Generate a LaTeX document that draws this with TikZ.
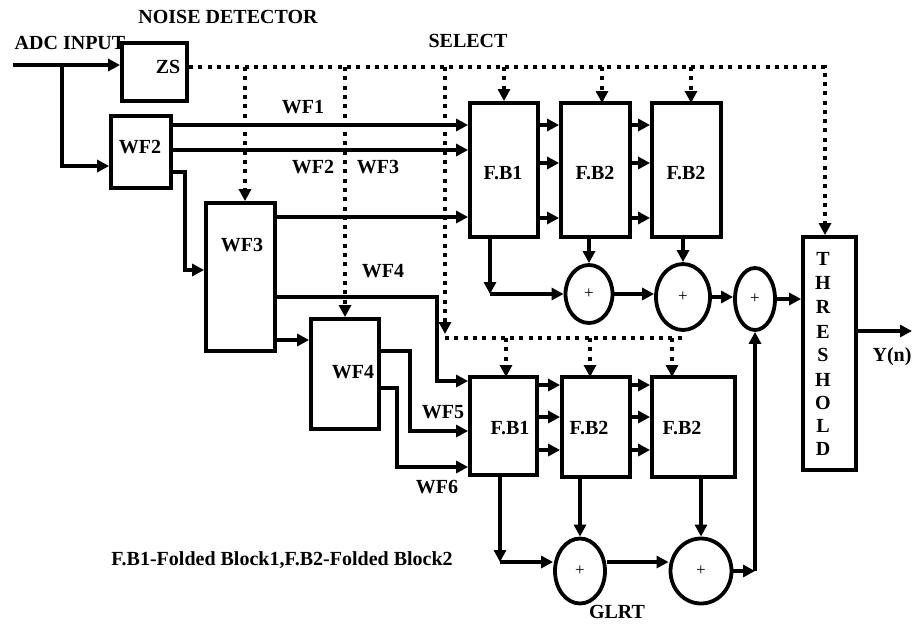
\documentclass[tikz,border=0pt]{standalone}
\usepackage{fontspec}
\setmainfont{Liberation Serif}
\usetikzlibrary{arrows.meta,shapes.geometric}
\tikzset{
  ln/.style={line width=3.8pt, line join=miter},
  arr/.style={ln, -{Triangle[length=12pt,width=12pt]}},
  dotl/.style={line width=4pt, dash pattern=on 4pt off 5.3pt},
  darr/.style={dotl, -{Triangle[length=12pt,width=12pt]}},
  blk/.style={draw, line width=3.8pt, inner sep=0pt, fill=white},
  sumnode/.style={draw, ellipse, line width=3.8pt, inner sep=0pt, font=\fontsize{17}{17}\selectfont},
  lbl/.style={inner sep=0pt, font=\fontsize{20}{20}\selectfont\bfseries},
}
\begin{document}
\begin{tikzpicture}[x=1pt,y=-1pt]
\useasboundingbox (0,0) rectangle (912,624);

% ---------- blocks ----------
\node[blk, minimum width=65pt, minimum height=58pt] (zs) at (154.5,72) {};
\node[blk, minimum width=60pt, minimum height=72pt] (wf2) at (141,152) {};
\node[blk, minimum width=69pt, minimum height=148pt] (wf3) at (240.5,277) {};
\node[blk, minimum width=68pt, minimum height=110pt] (wf4) at (345,374) {};
\node[blk, minimum width=68pt, minimum height=134pt] (ufb1) at (504,170) {};
\node[blk, minimum width=69pt, minimum height=134pt] (ufb2) at (595.5,170) {};
\node[blk, minimum width=69pt, minimum height=134pt] (ufb3) at (686.5,170) {};
\node[blk, minimum width=67pt, minimum height=98pt] (lfb1) at (503.5,426) {};
\node[blk, minimum width=68pt, minimum height=100pt] (lfb2) at (596,427) {};
\node[blk, minimum width=83pt, minimum height=100pt] (lfb3) at (693.5,427) {};
\node[blk, minimum width=53pt, minimum height=233pt] (thr) at (829.5,353.5) {};

% ---------- adders ----------
\node[sumnode, minimum width=47pt, minimum height=58pt] (c1) at (589,294) {+};
\node[sumnode, minimum width=54pt, minimum height=66pt] (c2) at (683,297) {+};
\node[sumnode, minimum width=40pt, minimum height=62pt] (c3) at (755,299) {+};
\node[sumnode, minimum width=50pt, minimum height=65pt] (c4) at (580,571) {+};
\node[sumnode, minimum width=61pt, minimum height=65pt] (c5) at (701,571) {+};

% ---------- block texts ----------
\node[lbl] (tzs) at (168,67) {ZS};
\node[lbl] (twf2) at (140,147) {WF2};
\node[lbl] (twf3) at (242,245) {WF3};
\node[lbl] (twf4) at (353,372) {WF4};
\node[lbl] (tu1) at (503,173) {F.B1};
\node[lbl] (tu2) at (595,173) {F.B2};
\node[lbl] (tu3) at (686,173) {F.B2};
\node[lbl] (tl1) at (510,428) {F.B1};
\node[lbl] (tl2) at (589,428) {F.B2};
\node[lbl] (tl3) at (682,428) {F.B2};
\foreach \ch/\yy [count=\i] in {T/259,H/283,R/307,E/332,S/355,H/380,O/403,L/426,D/449}
  \node[lbl] (th\i) at (823,\yy) {\ch};

% ---------- free labels ----------
\node[lbl] (noise) at (228,17) {NOISE DETECTOR};
\node[lbl] (adc) at (70,43) {ADC INPUT};
\node[lbl] (sel) at (468,41) {SELECT};
\node[lbl] (lwf1) at (303,107) {WF1};
\node[lbl] (lwf2) at (313,167) {WF2};
\node[lbl] (lwf3) at (378,167) {WF3};
\node[lbl] (lwf4) at (383,271) {WF4};
\node[lbl] (lwf5) at (443,412) {WF5};
\node[lbl] (lwf6) at (437,487) {WF6};
\node[lbl] (yn) at (892,357) {Y(n)};
\node[lbl] (glrt) at (617,612) {GLRT};
\node[lbl] (legend) at (282,560) {F.B1-Folded Block1,F.B2-Folded Block2};

% ---------- coordinates ----------
\coordinate (in) at (13,65);
\coordinate (j1) at (62,65);
\coordinate (a2) at (62,166);
\coordinate (r3) at (185,172);
\coordinate (r3b) at (185,270);
\coordinate (r5) at (437,297);
\coordinate (r5b) at (437,381);
\coordinate (r7) at (410,351);
\coordinate (r7b) at (410,431);
\coordinate (r8) at (397,388);
\coordinate (r8b) at (397,467);
\coordinate (cu) at (490,294);
\coordinate (cl) at (500,562);
\coordinate (j5) at (755,571);
\coordinate (out) at (912,331);
\coordinate (d0) at (825,67);
\coordinate (dA) at (245,67);
\coordinate (dC) at (445,67);
\coordinate (dCe) at (445,334);
\coordinate (dL) at (445,338);
\coordinate (dLe) at (682,338);

% ---------- solid connectors ----------
\draw[arr] (in) -- (in -| zs.west);
\draw[arr] (j1) -- (a2) -- (a2 -| wf2.west);
\draw[arr] (wf2.east |- 0,125) -- (ufb1.west |- 0,125);
\draw[arr] (wf2.east |- 0,150) -- (ufb1.west |- 0,150);
\draw[arr] (r3 -| wf2.east) -- (r3) -- (r3b) -- (r3b -| wf3.west);
\draw[arr] (wf3.east |- 0,217) -- (ufb1.west |- 0,217);
\draw[arr] (r5 -| wf3.east) -- (r5) -- (r5b) -- (r5b -| lfb1.west);
\draw[arr] (wf3.east |- 0,340) -- (wf4.west |- 0,340);
\draw[arr] (r7 -| wf4.east) -- (r7) -- (r7b) -- (r7b -| lfb1.west);
\draw[arr] (r8 -| wf4.east) -- (r8) -- (r8b) -- (r8b -| lfb1.west);

\foreach \yy in {125,163,218} {
  \draw[arr] (ufb1.east |- 0,\yy) -- (ufb2.west |- 0,\yy);
  \draw[arr] (ufb2.east |- 0,\yy) -- (ufb3.west |- 0,\yy);
}
\foreach \yy in {385,417,450} {
  \draw[arr] (lfb1.east |- 0,\yy) -- (lfb2.west |- 0,\yy);
  \draw[arr] (lfb2.east |- 0,\yy) -- (lfb3.west |- 0,\yy);
}

\draw[arr] (cu |- ufb1.south) -- (cu);
\draw[arr] (cu) -- (c1.west);
\draw[arr] (c1.north |- ufb2.south) -- (c1.north);
\draw[arr] (c2.north |- ufb3.south) -- (c2.north);
\draw[arr] (c1.east) -- (c1.east -| c2.west);
\draw[arr] (c2.east) -- (c2.east -| c3.west);
\draw[arr] (c3.east) -- (c3.east -| thr.west);
\draw[arr] (out -| thr.east) -- (out);

\draw[arr] (cl |- lfb1.south) -- (cl);
\draw[arr] (cl) -- (cl -| c4.west);
\draw[arr] (c4.north |- lfb2.south) -- (c4.north);
\draw[arr] (c5.north |- lfb3.south) -- (c5.north);
\draw[arr] (cl -| c4.east) -- (cl -| c5.west);
\draw[arr] (c5.east) -- (j5);
\draw[arr] (j5) -- (c3.south);

% ---------- dotted select lines ----------
\draw[darr] (zs.east |- d0) -- (d0) -- (d0 |- thr.north);
\draw[darr] (dA) -- (dA |- wf3.north);
\draw[darr] (wf4.north |- d0) -- (wf4.north);
\draw[darr] (dC) -- (dCe);
\draw[darr] (ufb1.north |- d0) -- (ufb1.north);
\draw[darr] (602,67) -- (602,103);
\draw[darr] (691,67) -- (691,103);
\draw[dotl] (dL) -- (dLe);
\draw[darr] (506,338) -- (506,377);
\draw[darr] (590,338) -- (590,377);
\draw[darr] (672,338) -- (672,377);
\end{tikzpicture}
\end{document}
